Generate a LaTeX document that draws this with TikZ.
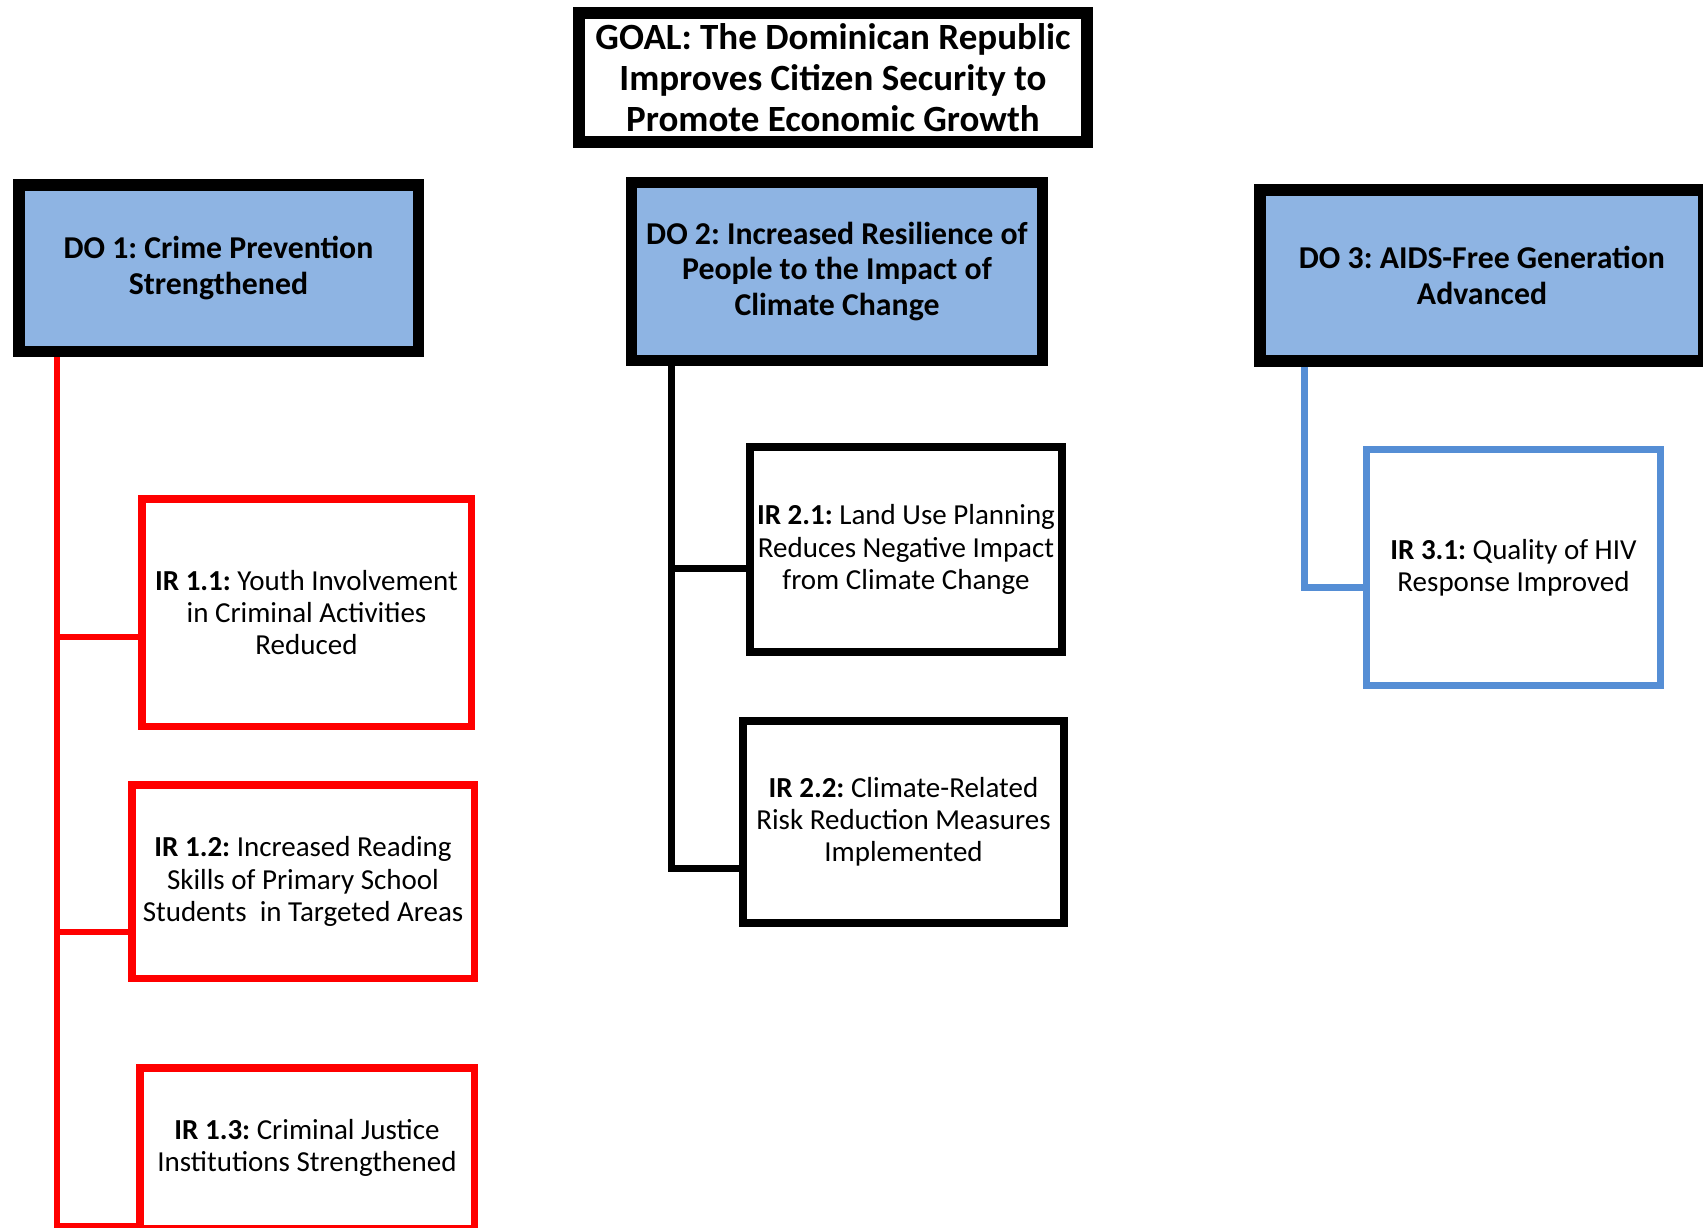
\documentclass[tikz,border=0pt]{standalone}
\usepackage{fontspec}
\setmainfont{Carlito}
\usetikzlibrary{shadows}
\definecolor{dofill}{HTML}{8EB4E3}
\definecolor{irblue}{HTML}{558ED5}
\definecolor{irred}{HTML}{FF0000}
\frenchspacing
\begin{document}
\begin{tikzpicture}[x=1pt,y=-1pt,
  goalbox/.style={draw=black, line width=12pt, fill=white, align=center, inner sep=0pt,
    font=\bfseries\fontsize{37}{40.7}\selectfont},
  dobox/.style={draw=black, line width=11.5pt, fill=dofill, align=center, inner sep=0pt,
    font=\bfseries\fontsize{31.8}{35.4}\selectfont,
    drop shadow={shadow xshift=3pt, shadow yshift=-4pt, opacity=0.28, fill=black!60}},
  irbox/.style={fill=white, align=center, inner sep=0pt,
    font=\fontsize{29}{32.2}\selectfont},
  redbox/.style={irbox, draw=irred, line width=7.5pt},
  blackbox/.style={irbox, draw=black, line width=8pt},
  bluebox/.style={irbox, draw=irblue, line width=7pt},
  redline/.style={draw=irred, line width=6pt},
  blackline/.style={draw=black, line width=7pt},
  blueline/.style={draw=irblue, line width=7pt},
]
\useasboundingbox (0,0) rectangle (1703,1227);
\clip (0,0) rectangle (1703,1227);

\node[goalbox, minimum width=508pt, minimum height=129pt] (goal) at (833,77.5)
  {GOAL: The Dominican Republic\\Improves Citizen Security to\\Promote Economic Growth};

\node[dobox, minimum width=399.5pt, minimum height=166.5pt] (do1) at (218.5,268)
  {DO 1: Crime Prevention\\Strengthened};
\node[dobox, minimum width=411pt, minimum height=178pt] (do2) at (837,271.5)
  {DO 2: Increased Resilience of\\People to the Impact of\\Climate Change};
\node[dobox, minimum width=444pt, minimum height=171pt] (do3) at (1482,275.5)
  {DO 3: AIDS-Free Generation\\Advanced};

\node[redbox, minimum width=329.5pt, minimum height=227.5pt] (ir11) at (306.5,612.5)
  {\textbf{IR 1.1:} Youth Involvement\\in Criminal Activities\\Reduced};
\node[redbox, minimum width=342.5pt, minimum height=193.5pt] (ir12) at (303,881.5)
  {\textbf{IR 1.2:} Increased Reading\\Skills of Primary School\\Students\ \ in Targeted Areas};
\node[redbox, minimum width=334.5pt, minimum height=160.5pt] (ir13) at (307,1148)
  {\textbf{IR 1.3:} Criminal Justice\\Institutions Strengthened};

\node[blackbox, minimum width=312pt, minimum height=205pt] (ir21) at (906,549.5)
  {\textbf{IR 2.1:} Land Use Planning\\Reduces Negative Impact\\from Climate Change};
\node[blackbox, minimum width=321pt, minimum height=202pt] (ir22) at (903.5,822)
  {\textbf{IR 2.2:} Climate-Related\\Risk Reduction Measures\\Implemented};

\node[bluebox, minimum width=294pt, minimum height=236pt] (ir31) at (1513.5,567.5)
  {\textbf{IR 3.1:} Quality of HIV\\Response Improved};

% connectors
\coordinate (rx) at (57,0);
\coordinate (r1) at (57,637);
\coordinate (r2) at (57,932);
\coordinate (r3) at (57,1226);
\draw[redline] (do1.south -| rx) -- (r3) -- (r3 -| ir13.west);
\draw[redline] (r1) -- (r1 -| ir11.west);
\draw[redline] (r2) -- (r2 -| ir12.west);

\coordinate (bx) at (671,0);
\coordinate (b1) at (671,568);
\coordinate (b2) at (671,868);
\draw[blackline] (do2.south -| bx) -- (b2) -- (b2 -| ir22.west);
\draw[blackline] (b1) -- (b1 -| ir21.west);

\coordinate (ux) at (1304,0);
\coordinate (u1) at (1304,587);
\draw[blueline] (do3.south -| ux) -- (u1) -- (u1 -| ir31.west);
\end{tikzpicture}
\end{document}
